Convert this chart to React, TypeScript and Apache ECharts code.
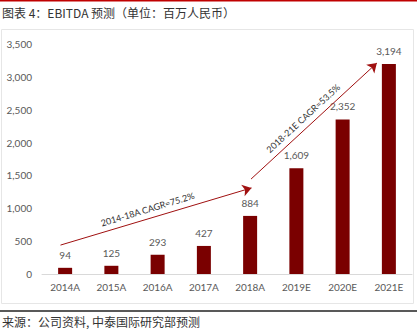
import React, { useEffect, useRef } from "react";
import * as echarts from "echarts";

const categories = ["2014A", "2015A", "2016A", "2017A", "2018A", "2019E", "2020E", "2021E"];
const ebitda = [94, 125, 293, 427, 884, 1609, 2352, 3194];
const yTicks = [0, 500, 1000, 1500, 2000, 2500, 3000, 3500];
// arrow endpoints: [category position (index, fractional), value]
const arrow1 = { from: [-0.1, 440], to: [4.03, 1310], text: "2014-18A CAGR=75.2%" };
const arrow2 = { from: [4.02, 1445], to: [6.74, 3210], text: "2018-21E CAGR=53.5%" };
const title = "图表 4：EBITDA 预测（单位：百万人民币）";
const source = "来源：公司资料, 中泰国际研究部预测";

const FONT = "Lato, 'Noto Sans', sans-serif";
const CJK = "'Noto Sans CJK SC', sans-serif";
const BAR = "#7a0000";
const TXT = "#595959";

export default function App() {
  const ref = useRef<HTMLDivElement>(null);
  useEffect(() => {
    const chart = echarts.init(ref.current!, null, { renderer: "svg" });
    const mk = (a: any) => [
      {
        coord: a.from,
        symbol: "none",
        label: {
          show: true,
          position: "middle",
          formatter: a.text,
          color: "#333",
          fontSize: 9,
          fontFamily: FONT,
          distance: 5,
          padding: [0, 12, 0, 0],
        },
      },
      { coord: a.to, symbol: "arrow", symbolSize: 9 },
    ];
    chart.setOption({
      animation: false,
      grid: { left: 42, right: 5, top: 44, bottom: 60 },
      xAxis: [
        {
          type: "category",
          data: categories,
          axisLine: { lineStyle: { color: "#d9d9d9" } },
          axisTick: { show: false },
          axisLabel: { color: TXT, fontSize: 10, fontFamily: FONT, margin: 8 },
        },
        { type: "value", min: -0.5, max: categories.length - 0.5, show: false },
      ],
      yAxis: {
        type: "value",
        min: yTicks[0],
        max: yTicks[yTicks.length - 1],
        interval: 500,
        axisLine: { show: false },
        axisTick: { show: false },
        splitLine: { show: false },
        axisLabel: {
          color: TXT,
          fontSize: 10,
          fontFamily: FONT,
          margin: 10,
          formatter: (v: number) => v.toLocaleString("en-US"),
        },
      },
      graphic: [
        { type: "rect", shape: { x: 0, y: 0, width: 417, height: 1.5 }, style: { fill: "#c00000" } },
        { type: "text", x: 2, y: 6, style: { text: title, fontSize: 12, fontFamily: CJK, fill: "#333" } },
        { type: "rect", shape: { x: 1.5, y: 29.5, width: 412, height: 274 }, style: { fill: "none", stroke: "#e6e6e6", lineWidth: 1 } },
        { type: "rect", shape: { x: 0, y: 310, width: 417, height: 2 }, style: { fill: "#595959" } },
        { type: "text", x: 2, y: 315, style: { text: source, fontSize: 12, fontFamily: CJK, fill: "#333" } },
      ],
      series: [
        {
          type: "bar",
          data: ebitda,
          barWidth: 14,
          itemStyle: { color: BAR },
          label: {
            show: true,
            position: "top",
            distance: 8,
            color: TXT,
            fontSize: 10,
            fontFamily: FONT,
            formatter: (p: any) => Number(p.value).toLocaleString("en-US"),
          },
        },
        {
          type: "line",
          xAxisIndex: 1,
          data: [],
          markLine: {
            silent: true,
            lineStyle: { color: "#a01010", width: 1, type: "solid" },
            data: [mk(arrow1), mk(arrow2)],
          },
        },
      ],
    });
    return () => chart.dispose();
  }, []);
  return <div ref={ref} style={{ position: "absolute", left: 0, top: 0, width: 417, height: 334 }} />;
}
